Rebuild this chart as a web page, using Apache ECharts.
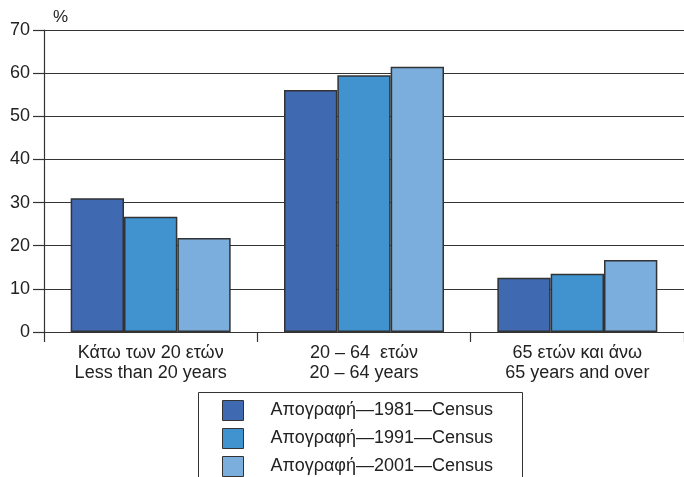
<!DOCTYPE html>
<html><head><meta charset="utf-8">
<script src="https://cdn.jsdelivr.net/npm/echarts@6/dist/echarts.min.js"></script>
<style>html,body{margin:0;padding:0;background:#fff}#c{width:684px;height:477px}</style>
</head><body><div id="c"></div>
<script>
var categories = ['Κάτω των 20 ετών\nLess than 20 years', '20 – 64  ετών\n20 – 64 years', '65 ετών και άνω\n65 years and over'];
var seriesNames = ['Απογραφή—1981—Census', 'Απογραφή—1991—Census', 'Απογραφή—2001—Census'];
var values1981 = [31.0, 56.1, 12.6];
var values1991 = [26.7, 59.5, 13.5];
var values2001 = [21.8, 61.5, 16.7];
var yTicks = [0, 10, 20, 30, 40, 50, 60, 70];
var colors = ['#3F69B1', '#4193D0', '#7BAEDC'];
var FONT = 'Liberation Sans, Arial, sans-serif';
var chart = echarts.init(document.getElementById('c'));
var data = [values1981, values1991, values2001];
chart.setOption({
  animation: false,
  color: colors,
  textStyle: {fontFamily: FONT},
  grid: {left: 44, right: -2, top: 30, bottom: 145, containLabel: false},
  graphic: [
    {type: 'rect', shape: {x: 198.5, y: 392.5, width: 324, height: 100}, style: {fill: 'none', stroke: '#333', lineWidth: 1}, z: 1},
    {type: 'text', left: 53, top: 9, style: {text: '%', font: '17px ' + FONT, fill: '#222'}}
  ],
  legend: {
    orient: 'vertical', left: 222, top: 400, padding: 0,
    itemWidth: 21, itemHeight: 20, itemGap: 7, icon: 'rect',
    itemStyle: {borderColor: '#333', borderWidth: 1},
    textStyle: {fontFamily: FONT, fontSize: 18, color: '#222', padding: [0, 0, 0, 22]},
    data: seriesNames
  },
  xAxis: {
    type: 'category', data: categories,
    axisLine: {show: true, lineStyle: {color: '#333', width: 1.2}},
    axisTick: {show: true, alignWithLabel: false, length: 10, lineStyle: {color: '#333', width: 1.2}},
    axisLabel: {fontFamily: FONT, fontSize: 18, color: '#222', lineHeight: 20, margin: 11, interval: 0}
  },
  yAxis: {
    type: 'value', min: 0, max: 70, interval: 10,
    axisLine: {show: true, lineStyle: {color: '#333', width: 1.2}},
    axisTick: {show: true, length: 11, lineStyle: {color: '#333', width: 1.2}},
    axisLabel: {fontFamily: FONT, fontSize: 18, color: '#222', margin: 14,
      formatter: function (v) { return yTicks.indexOf(v) >= 0 ? String(v) : ''; }},
    splitLine: {show: true, lineStyle: {color: '#333', width: 1.2}}
  },
  series: seriesNames.map(function (n, i) {
    return {
      name: n, type: 'bar', data: data[i], barGap: '0%', barCategoryGap: '25%',
      itemStyle: {color: colors[i], borderColor: '#333', borderWidth: 1.5}
    };
  })
});
</script></body></html>
